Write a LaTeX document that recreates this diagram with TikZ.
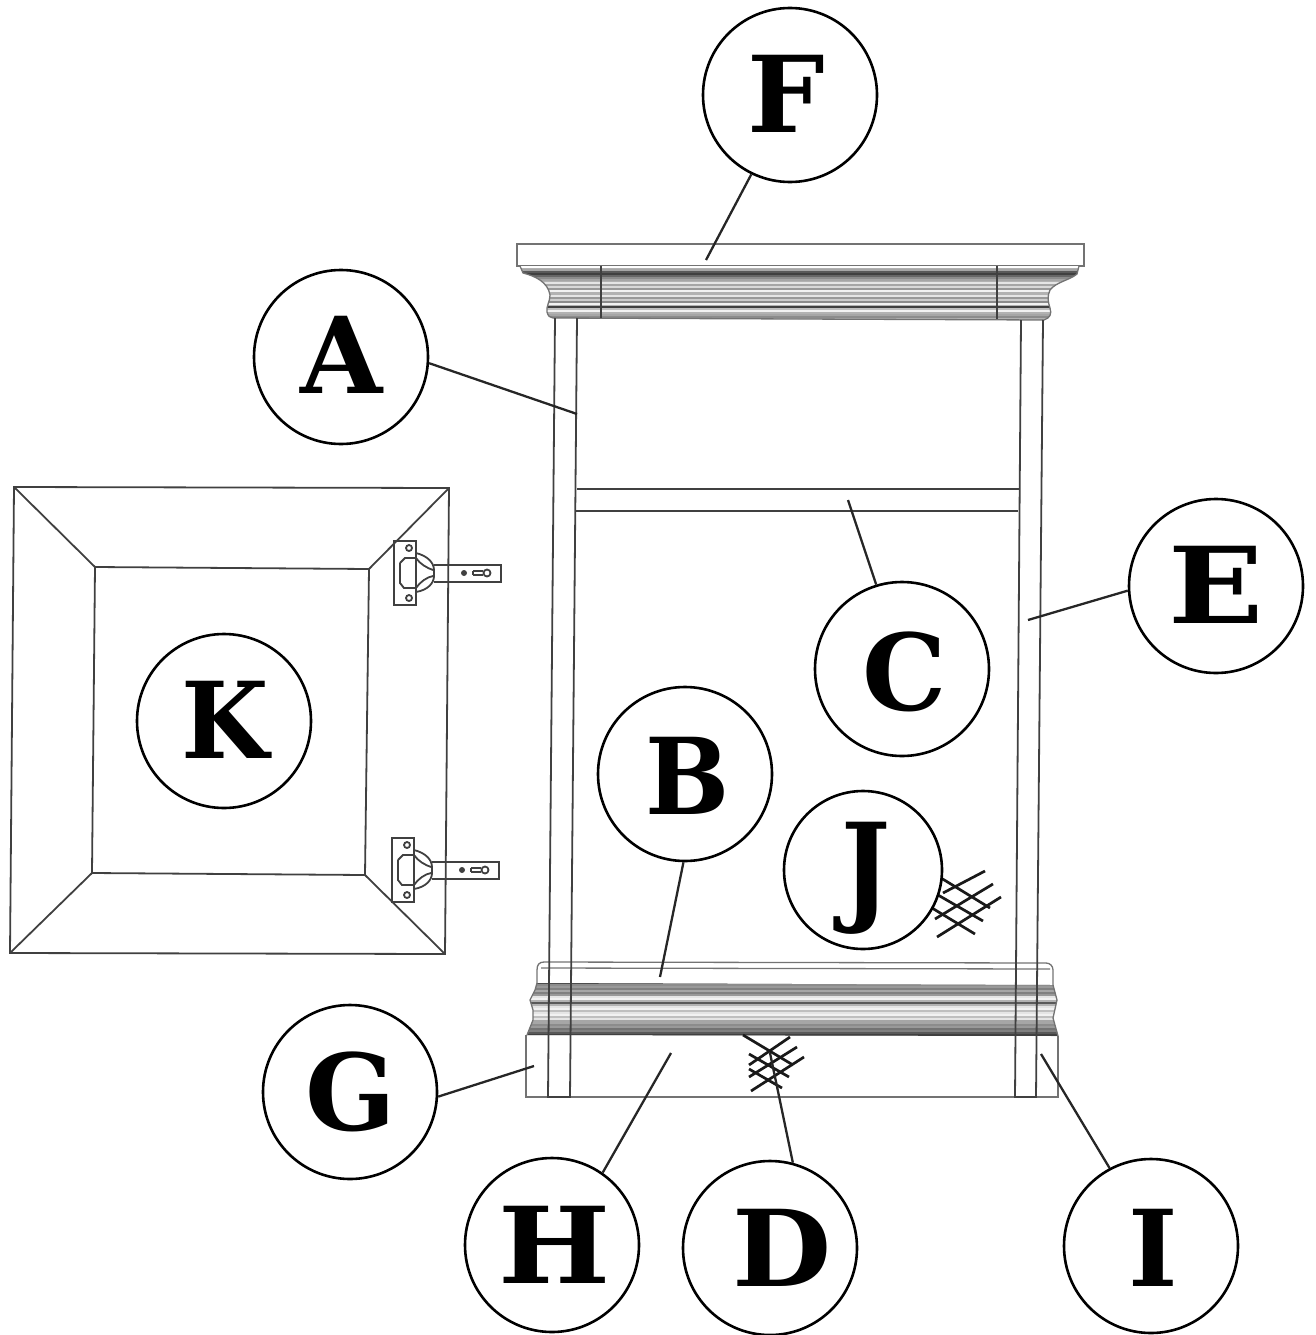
\documentclass[tikz,border=0pt]{standalone}
\usepackage{fontspec}
\usepackage{graphicx}
\newfontfamily\labelfont{DejaVu Serif}
% xscale, yscale, x offset, baseline below centre, letter
\newcommand{\capt}[5]{\raisebox{-#4pt}[0pt][0pt]{\kern#3pt\scalebox{#1}[#2]{#5}\kern-#3pt}}
\tikzset{
  callout/.style={circle, draw, fill=white, line width=2.6pt, minimum size=174pt, inner sep=0pt, font=\labelfont\bfseries\fontsize{106}{106}\selectfont},
  leader/.style={line width=2.3pt, black!85},
  hatch/.style={line width=2.7pt, black!90},
  wood/.style={line width=1.8pt, black!75},
  thinwood/.style={line width=1.3pt, black!55}
}
\begin{document}
\begin{tikzpicture}[x=1pt,y=-1pt]
\useasboundingbox (0,0) rectangle (1316,1335);

% door
\draw[wood] (14,487) -- (449,488) -- (445,954) -- (10,953) -- cycle;
\draw[wood] (95,567) -- (369,569) -- (365,875) -- (92,873) -- cycle;
\draw[wood] (14,487) -- (95,567);
\draw[wood] (449,488) -- (369,569);
\draw[wood] (445,954) -- (365,875);
\draw[wood] (10,953) -- (92,873);

% hinges
\foreach \dx/\dy in {0/0,-2/297}{
  \begin{scope}[shift={(\dx,\dy)}]
    \draw[wood] (394,541) rectangle (416,605);
    \draw[wood] (409,548) circle (3);
    \draw[wood] (409,598) circle (3);
    \draw[wood] (416,553) .. controls (428,556) and (434,563) .. (434,570) -- (434,576) .. controls (434,583) and (428,590) .. (416,592);
    \draw[wood] (400,563) -- (405,558) -- (416,558) .. controls (420,564) and (427,568) .. (433,570);
    \draw[wood] (400,563) -- (400,583) -- (404,588) -- (416,588) .. controls (420,582) and (427,577) .. (433,576);
    \draw[wood] (434,565) -- (501,565) -- (501,582) -- (434,582);
    \fill[black!75] (464,573) circle (3);
    \draw[wood] (473,571) -- (483,571) (473,575) -- (483,575) (473,571) -- (473,575);
    \draw[wood] (487,573) circle (3.5);
  \end{scope}
}

% crown
\draw[thinwood] (517,266) -- (517,244) -- (1084,244) -- (1084,266) -- cycle;
\begin{scope}
  \clip (520,266) -- (523,273) .. controls (535,276) and (548,282) .. (550,295) .. controls (550,302) and (546,306) .. (547,312) .. controls (548,316) and (550,318) .. (553,318)
    -- (1044,320) .. controls (1050,318) and (1052,314) .. (1050,308) .. controls (1048,302) and (1047,296) .. (1050,290) .. controls (1056,282) and (1070,280) .. (1077,274) -- (1079,266) -- cycle;
  \fill[black!30] (510,262) rectangle (1090,325);
  \fill[white] (510,262) rectangle (1090,268);
  \foreach \yy/\gg in {270/35,272/65,274/75,276/60,278/45,280/35,283/10,285/35,287/15,289/40,291/5,293/30,296/10,298/40,300/20,302/45,304/5,307/75,309/25,311/5,313/30,315/35,317/45}{
    \draw[line width=1.5pt, black!\gg] (510,\yy) -- (1090,\yy);
  }
\end{scope}
\draw[thinwood] (520,266) -- (523,273) .. controls (535,276) and (548,282) .. (550,295) .. controls (550,302) and (546,306) .. (547,312) .. controls (548,316) and (550,318) .. (553,318) -- (1044,320) .. controls (1050,318) and (1052,314) .. (1050,308) .. controls (1048,302) and (1047,296) .. (1050,290) .. controls (1056,282) and (1070,280) .. (1077,274) -- (1079,266);
\draw[wood] (601,266) -- (601,318);
\draw[wood] (997,266) -- (997,319);

% base
\begin{scope}
  \clip (537,983) -- (535,990) -- (530,1000) -- (533,1010) -- (533,1020) -- (527,1035) -- (1058,1036) -- (1053,1018) -- (1057,1000) -- (1053,985) -- cycle;
  \fill[black!40] (520,980) rectangle (1065,1040);
  \foreach \yy/\gg in {983/70,985/45,987/40,989/50,991/35,993/50,995/40,997/10,999/5,1001/30,1003/65,1005/30,1007/10,1009/5,1011/25,1013/10,1015/5,1017/25,1019/10,1021/35,1023/35,1025/45,1027/40,1029/55,1031/50,1033/65,1035/75}{
    \draw[line width=1.5pt, black!\gg] (520,\yy) -- (1065,\yy);
  }
\end{scope}
\draw[thinwood] (537,983) -- (537,970) .. controls (537,965) and (539,962) .. (544,962) -- (1046,963) .. controls (1050,963) and (1053,966) .. (1053,970) -- (1053,985);
\draw[thinwood] (541,968) -- (1050,969);
\draw[thinwood] (537,983) -- (535,990) -- (530,1000) -- (533,1010) -- (533,1020) -- (527,1035);
\draw[thinwood] (1053,985) -- (1057,1000) -- (1053,1018) -- (1058,1036);
\draw[thinwood] (526,1035) -- (526,1097) -- (1058,1097) -- (1058,1036);

% stiles and rail
\draw[wood] (555,318) -- (548,1097) -- (570,1097) -- (577,318);
\draw[wood] (1021,320) -- (1015,1097) -- (1036,1097) -- (1043,320);
\draw[wood] (577,489) -- (1019,489);
\draw[wood] (576,511) -- (1018,511);

% hatching
\foreach \ax/\ay/\bx/\by in {941/878/990/908,938/895/983/921,932/908/975/934,943/893/985/871,935/919/993/884,937/937/1001/897,743/1035/793/1065,749/1054/789/1077,749/1069/782/1088,749/1065/790/1037,749/1077/797/1047,751/1091/804/1057}{
  \draw[hatch] (\ax,\ay) -- (\bx,\by);
}

\coordinate (tipF) at (706,260);
\coordinate (tipA) at (577,414);
\coordinate (tipC) at (848,500);
\coordinate (tipE) at (1028,620);
\coordinate (tipB) at (660,977);
\coordinate (tipG) at (534,1066);
\coordinate (tipH) at (671,1053);
\coordinate (tipD) at (770,1053);
\coordinate (tipI) at (1041,1054);

\node[callout] (F) at (790,95) {\capt{1.03}{1}{-4}{38}{F}};
\node[callout] (A) at (341,357) {\capt{1}{1}{1}{36}{A}};
\node[callout] (E) at (1216,586) {\capt{1.18}{1}{0}{37}{E}};
\node[callout] (C) at (902,669) {\capt{1}{1}{3}{41}{C}};
\node[callout] (B) at (685,774) {\capt{.94}{1}{3}{40}{B}};
\node[callout, minimum size=158pt] (J) at (863,870) {\capt{.98}{1.13}{3}{39}{J}};
\node[callout] (K) at (224,721) {\capt{.95}{1}{1}{37}{K}};
\node[callout] (G) at (350,1092) {\capt{1}{1}{1}{38}{G}};
\node[callout] (H) at (552,1245) {\capt{1.12}{1}{3}{38}{H}};
\node[callout] (D) at (770,1248) {\capt{1.08}{1}{12}{38}{D}};
\node[callout] (I) at (1151,1246) {\capt{1}{1}{2}{40}{I}};

\draw[leader] (F.-116.6) -- (tipF);
\draw[leader] (A.-4.5) -- (tipA);
\draw[leader] (C.107.6) -- (tipC);
\draw[leader] (E.183) -- (tipE);
\draw[leader] (B.-91) -- (tipB);
\draw[leader] (G.-3) -- (tipG);
\draw[leader] (H.55) -- (tipH);
\draw[leader] (D.75) -- (tipD);
\draw[leader] (I.118.8) -- (tipI);
\end{tikzpicture}
\end{document}
